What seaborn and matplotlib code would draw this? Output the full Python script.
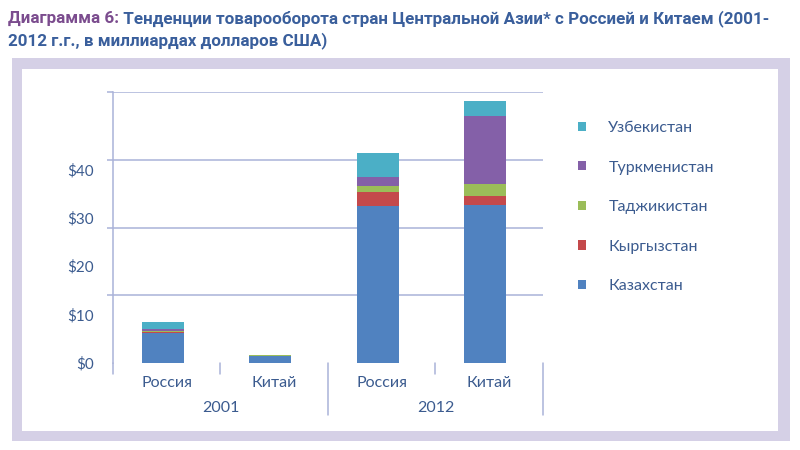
import matplotlib
matplotlib.use("Agg")
import matplotlib.pyplot as plt
import matplotlib.transforms as mtransforms
from matplotlib import font_manager
from matplotlib.patches import Rectangle, Patch
from matplotlib.lines import Line2D
import seaborn as sns
import pandas as pd

# ---------------- data ----------------
partners = ["Россия", "Китай", "Россия", "Китай"]
years = ["2001", "2001", "2012", "2012"]
group_labels = ["2001", "2012"]
countries = ["Казахстан", "Кыргызстан", "Таджикистан", "Туркменистан", "Узбекистан"]
kazakhstan = [6.2, 1.5, 32.5, 32.6]
kyrgyzstan = [0.3, 0.03, 2.8, 1.9]
tajikistan = [0.2, 0.02, 1.2, 2.5]
turkmenistan = [0.4, 0.02, 1.9, 14.0]
uzbekistan = [1.4, 0.05, 4.9, 3.1]
ytick_values = [0, 10, 20, 30, 40]
ytick_labels = ["$0", "$10", "$20", "$30", "$40"]
grid_values = [0, 14, 28, 42, 56]
title_part1 = "Диаграмма 6:"
title_part2 = " Тенденции товарооборота стран Центральной Азии* с Россией и Китаем (2001-"
title_line2 = "2012 г.г., в миллиардах долларов США)"

colors = ["#5082c0", "#c4494b", "#9bbd59", "#8460a8", "#4bafc6"]
grid_color = "#aab3d8"
text_color = "#3b5b8f"
title_blue = "#3a5f9c"
title_purple = "#7b4c8e"
frame_color = "#d5d0e6"

series = [kazakhstan, kyrgyzstan, tajikistan, turkmenistan, uzbekistan]
cats = [f"{p} {y}" for p, y in zip(partners, years)]

rows = []
for c, vals in zip(countries, series):
    for k, v in enumerate(vals):
        rows.append({"cat": cats[k], "country": c, "value": v})
df = pd.DataFrame(rows)
df["cum"] = df.groupby("cat")["value"].cumsum()

sns.set_theme(style="white")


def pick(fams):
    for f in fams:
        try:
            font_manager.findfont(f, fallback_to_default=False)
            return f
        except Exception:
            continue
    return "DejaVu Sans"


body_font = pick(["Lato", "Open Sans", "DejaVu Sans"])
title_font = pick(["Liberation Sans Narrow", "Roboto", "Open Sans"])
plt.rcParams["font.family"] = [body_font, "DejaVu Sans"]

fig = plt.figure(figsize=(8, 4.5), dpi=100)
fig.patch.set_facecolor("white")

# frame
fig.patches.append(Rectangle((12 / 800, 1 - 441 / 450), 778 / 800, 383 / 450,
                             transform=fig.transFigure, facecolor=frame_color,
                             edgecolor="none", zorder=-3))
fig.patches.append(Rectangle((22 / 800, 1 - 431 / 450), 756 / 800, 362 / 450,
                             transform=fig.transFigure, facecolor="white",
                             edgecolor="none", zorder=-2))

ax = fig.add_axes([113 / 800, 1 - 363 / 450, 430 / 800, 271 / 450])
ax.patch.set_visible(False)

# stacked bars: draw cumulative totals, tallest first
for c, col in reversed(list(zip(countries, colors))):
    sub = df[df["country"] == c]
    sns.barplot(data=sub, x="cat", y="cum", order=cats, color=col,
                saturation=1, width=0.39, errorbar=None, ax=ax, zorder=3,
                edgecolor="none", linewidth=0)

shift = 0.037
ax.set_xlim(-0.5 + shift, 3.5 + shift)
ax.set_ylim(0, 56)
ax.set_xlabel("")
ax.set_ylabel("")
ax.set_xticks([])

ax.set_yticks(ytick_values, ytick_labels)
ax.set_yticks(grid_values, minor=True)
ax.tick_params(axis="y", which="major", length=0, pad=14, labelsize=11,
               labelcolor=text_color)
ax.tick_params(axis="y", which="minor", length=4.5, width=1.1, color=grid_color,
               left=True)
ax.yaxis.grid(True, which="minor", color=grid_color, linewidth=1.1, zorder=0)
ax.yaxis.grid(False, which="major")
for s in ["top", "right", "bottom"]:
    ax.spines[s].set_visible(False)
ax.spines["left"].set_color(grid_color)
ax.spines["left"].set_linewidth(1.1)

# category axis separators
trans = mtransforms.blended_transform_factory(ax.transData, ax.transAxes)
short = 11 / 271
long_ = 52 / 271
x0 = -0.5 + shift
for k in range(5):
    depth = long_ if k in (2, 4) else short
    ax.add_line(Line2D([x0 + k, x0 + k], [0, -depth], transform=trans,
                       color=grid_color, linewidth=1.1, clip_on=False))

for i, p in enumerate(partners):
    ax.text(i + shift, -20 / 271, p, transform=trans, ha="center", va="center",
            fontsize=11.5, color=text_color)
for g, lab in enumerate(group_labels):
    ax.text(2 * g + 0.5 + shift, -45 / 271, lab, transform=trans, ha="center",
            va="center", fontsize=11.5, color=text_color)

# legend
handles = [Patch(facecolor=col, edgecolor="none") for col in colors]
leg = fig.legend(list(reversed(handles)), list(reversed(countries)),
                 loc="upper left", bbox_to_anchor=(578 / 800, 1 - 121 / 450),
                 frameon=False, fontsize=11.5, handlelength=0.5,
                 handleheight=0.5, handletextpad=1.4, labelspacing=1.6,
                 borderaxespad=0, borderpad=0)
for t in leg.get_texts():
    t.set_color(text_color)

# title (two colours on first line)
tfs = 14
t1 = fig.text(8 / 800, 1 - 23 / 450, title_part1, color=title_purple,
              fontsize=tfs, fontweight="bold", family=[title_font, "DejaVu Sans"],
              ha="left", va="baseline")
t2 = fig.text(0, 0, title_part2, color=title_blue, fontsize=tfs,
              fontweight="bold", family=[title_font, "DejaVu Sans"],
              ha="left", va="baseline")
t3 = fig.text(8 / 800, 1 - 45 / 450, title_line2, color=title_blue,
              fontsize=tfs, fontweight="bold", family=[title_font, "DejaVu Sans"],
              ha="left", va="baseline")

fig.canvas.draw()
r = fig.canvas.get_renderer()
w = t1.get_window_extent(r).width + t2.get_window_extent(r).width
scale = 762 / w
for t in (t1, t2, t3):
    t.set_fontsize(tfs * scale)
fig.canvas.draw()
b1 = t1.get_window_extent(r)
t2.set_position(((b1.x1) / 800, 1 - 23 / 450))

fig.savefig("out.png", dpi=100)
